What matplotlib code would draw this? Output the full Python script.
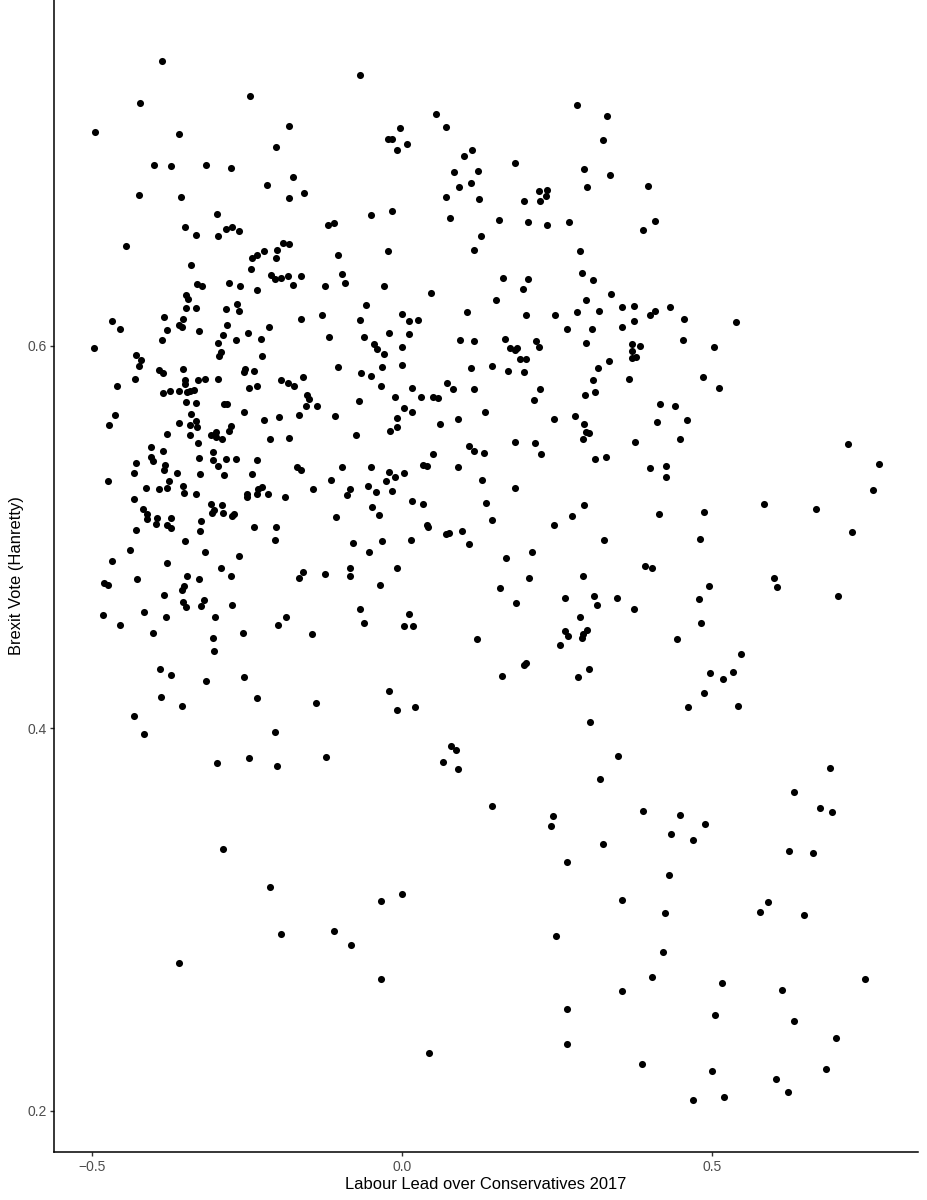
import matplotlib
matplotlib.use("Agg")
import matplotlib.pyplot as plt

# values
labour_lead = [
    -.386,-.422,-.068,-.244,-.495,-.359,-.181,-.202,-.022,-.016,
    -.003,-.008,-.399,-.372,-.316,-.276,-.175,-.217,-.424,-.356,
    -.181,-.157,-.049,-.016,-.298,
    -.349,-.332,-.296,-.283,-.274,-.262,-.119,-.110,-.445,-.022,
    -.191,-.181,-.201,-.222,-.233,-.242,-.103,-.202,-.340,-.243,
    -.211,-.205,-.194,-.183,-.163,-.097,-.175,-.124,-.091,-.029,
    -.330,-.322,-.278,-.261,-.234,-.348,-.345,-.265,-.057,-.348,
    -.331,-.283,-.262,-.383,-.352,-.467,-.163,-.128,-.068,-.454,
    -.360,-.355,-.378,-.327,-.281,-.214,-.248,-.289,-.020,-.386,
    -.268,-.227,-.118,-.061,-.297,-.045,-.497,-.040,-.292,-.294,
    -.226,-.028,-.428,-.420,-.423,-.391,-.385,-.352,-.252,-.255,
    -.239,-.102,-.031,-.065,-.049,-.430,-.350,-.349,-.329,-.317,
    -.296,-.194,-.184,-.174,-.160,-.459,-.033,-.234,-.246,-.385,
    -.373,-.360,-.347,-.341,-.335,-.152,-.149,-.011,-.069,-.348,
    -.331,-.286,-.281,-.154,-.136,-.254,-.340,-.462,-.198,-.165,
    -.108,-.007,-.222,-.332,-.359,-.472,-.342,-.330,-.276,-.008,
    -.279,-.019,-.378,-.342,-.307,-.300,-.299,-.290,-.074,-.212,
    -.181,
    -.328,-.405,-.385,-.304,-.404,-.401,-.327,-.304,-.283,-.268,
    -.233,-.428,-.382,-.297,-.169,-.163,-.096,-.049,-.384,-.432,
    -.362,-.325,-.287,-.242,-.020,-.011,-.026,-.114,-.474,-.375,
    -.413,-.391,-.378,-.352,-.351,-.332,-.225,-.231,-.233,-.216,
    -.249,-.249,-.189,-.143,-.084,-.088,-.055,-.041,-.016,-.431,
    -.308,-.290,-.418,-.303,-.306,-.289,-.271,-.273,-.048,-.036,
    -.410,-.410,-.395,-.396,-.372,-.378,-.372,-.324,-.106,-.428,
    -.325,-.239,-.202,-.205,-.349,-.079,-.031,-.052,-.438,-.317,
    -.262,-.467,-.378,-.292,-.084,-.007,-.346,-.276,-.327,-.427,
    -.159,-.165,-.123,-.083,-.480,-.474,-.351,-.354,-.035,-.383,
    -.319,-.352,-.348,-.323,-.273,-.067,-.415,-.482,-.380,-.301,
    -.187,-.061,-.454,-.200,-.401,-.256,-.144,-.304,-.303,
    -.390,-.372,-.315,-.255,-.389,-.355,-.233,-.138,-.431,-.415,
    -.021,-.007,-.204,-.298,-.246,-.201,-.122,-.288,
    -.212,-.195,-.109,-.082,-.033,.0005,-.033,-.360,
    .056,.072,.009,.113,.101,.085,.123,.112,.092,.182,
    .072,.125,.078,.157,.128,.117,.197,.221,.234,.232,
    .223,.204,.235,.270,.288,.283,.331,.325,.294,.336,
    .299,.397,.409,.389,.291,.163,.203,.309,
    .047,.195,.152,.297,.337,.355,.374,.432,.105,.201,
    .247,.283,.318,.409,.401,.375,.456,.001,.012,.026,
    .011,.266,.307,.355,.000,.094,.116,.166,.217,.222,
    .453,.298,.372,.385,.503,.174,.186,.183,.372,.371,
    .378,.190,.200,.334,.001,.111,.145,.316,.172,.197,
    .366,.486,.308,.511,.073,.016,.083,.117,.223,.312,
    .296,.031,.051,.059,.214,.004,.016,.134,.090,.061,
    .245,.280,.294,.416,.441,.411,.460,.297,.302,.292,
    .449,.377,.183,.215,.108,.117,.133,.225,.051,.312,
    .330,.034,.041,.091,.401,.427,.427,.004,.130,.182,
    .016,.034,.136,.294,.145,.274,.245,.415,.488,.041,
    .043,.072,.077,.098,.015,.109,.326,.481,.169,.210,
    .392,.403,.205,.293,.158,.496,.263,.310,.348,.480,
    .184,.315,.374,.287,.011,.003,.018,.483,.122,.444,
    .299,.263,.269,.292,.290,.255,.200,.197,.302,.162,
    .284,.497,.488,.462,.022,
    .303,.349,.080,.088,.067,.090,.320,.146,.244,.241,
    .389,.449,.489,.434,.470,.325,.266,.431,.356,.425,
    .249,.421,.403,.355,.266,.505,.266,.044,.387,.501,
    .470,
    .539,.719,.770,.760,.584,.668,.727,.600,.605,.703,
    .548,.519,.534,.542,.690,.632,.674,.694,.624,.664,
    .591,.578,.649,.748,.516,.613,.632,.700,.684,.604,
    .623,.520,
]
brexit_vote = [
    .7490,.7270,.7415,.7305,.7115,.7105,.7146,.7038,.7082,.7082,
    .7139,.7022,.6942,.6939,.6946,.6927,.6883,.6838,.6787,.6777,
    .6773,.6799,.6683,.6703,.6689,
    .6621,.6578,.6572,.6611,.6618,.6597,.6632,.6640,.6520,.6497,
    .6534,.6531,.6501,.6494,.6471,.6456,.6473,.6459,.6419,.6400,
    .6368,.6347,.6354,.6365,.6363,.6374,.6318,.6309,.6328,.6313,
    .6323,.6313,.6328,.6311,.6292,.6262,.6241,.6215,.6213,.6194,
    .6199,.6192,.6180,.6151,.6140,.6130,.6140,.6159,.6135,.6088,
    .6105,.6098,.6079,.6077,.6105,.6096,.6067,.6056,.6065,.6029,
    .6027,.6034,.6044,.6046,.6013,.6008,.5985,.5980,.5966,.5943,
    .5947,.5957,.5952,.5927,.5893,.5873,.5856,.5879,.5877,.5860,
    .5865,.5887,.5889,.5858,.5839,.5823,.5819,.5800,.5819,.5823,
    .5826,.5821,.5805,.5788,.5835,.5790,.5790,.5788,.5778,.5753,
    .5765,.5760,.5755,.5760,.5767,.5743,.5720,.5729,.5710,.5706,
    .5701,.5692,.5692,.5682,.5683,.5654,.5640,.5638,.5628,.5635,
    .5633,.5621,.5610,.5607,.5596,.5586,.5586,.5574,.5581,.5575,
    .5553,.5553,.5539,.5534,.5534,.5549,.5521,.5514,.5534,.5509,
    .5518,
    .5492,.5467,.5450,.5446,.5419,.5394,.5413,.5399,.5405,.5406,
    .5401,.5384,.5377,.5372,.5363,.5349,.5365,.5365,.5347,.5331,
    .5333,.5328,.5323,.5326,.5337,.5314,.5293,.5298,.5291,.5290,
    .5256,.5251,.5256,.5265,.5230,.5225,.5263,.5251,.5222,.5223,
    .5222,.5209,.5209,.5251,.5251,.5218,.5265,.5234,.5241,.5197,
    .5171,.5164,.5143,.5138,.5124,.5126,.5117,.5108,.5155,.5115,
    .5117,.5091,.5096,.5066,.5098,.5063,.5044,.5082,.5105,.5035,
    .5032,.5053,.5053,.4981,.4978,.4965,.4978,.4918,.4929,.4918,
    .4901,.4871,.4864,.4836,.4835,.4835,.4793,.4795,.4779,.4779,
    .4814,.4782,.4803,.4796,.4758,.4749,.4744,.4720,.4748,.4695,
    .4667,.4659,.4632,.4636,.4641,.4620,.4608,.4591,.4580,.4582,
    .4578,.4549,.4540,.4538,.4497,.4497,.4491,.4469,.4404,
    .4307,.4277,.4246,.4265,.4162,.4117,.4158,.4131,.4061,.3970,
    .4193,.4092,.3979,.3817,.3845,.3801,.3847,.3367,
    .3168,.2922,.2938,.2865,.3095,.3131,.2687,.2771,
    .7209,.7141,.7054,.7024,.6989,.6906,.6911,.6852,.6829,.6953,
    .6777,.6768,.6669,.6658,.6573,.6498,.6756,.6810,.6812,.6780,
    .6754,.6646,.6628,.6644,.6496,.7259,.7202,.7075,.6921,.6893,
    .6831,.6834,.6653,.6606,.6377,.6355,.6346,.6343,
    .6273,.6294,.6240,.6240,.6268,.6202,.6207,.6200,.6176,.6160,
    .6158,.6177,.6183,.6181,.6160,.6127,.6141,.6163,.6129,.6132,
    .6061,.6085,.6088,.6095,.5994,.6029,.6024,.6033,.6024,.5991,
    .6029,.6012,.6008,.5996,.5994,.5989,.5986,.5977,.5974,.5933,
    .5939,.5928,.5930,.5921,.5899,.5881,.5893,.5885,.5865,.5862,
    .5827,.5838,.5818,.5780,.5804,.5778,.5775,.5773,.5775,.5759,
    .5743,.5730,.5731,.5724,.5714,.5675,.5655,.5655,.5618,.5592,
    .5616,.5630,.5592,.5695,.5682,.5602,.5611,.5546,.5543,.5513,
    .5513,.5496,.5496,.5492,.5475,.5451,.5438,.5431,.5435,.5407,
    .5419,.5376,.5372,.5365,.5358,.5372,.5315,.5332,.5299,.5254,
    .5189,.5173,.5178,.5164,.5089,.5107,.5063,.5121,.5131,.5060,
    .5053,.5016,.5018,.5028,.4981,.4964,.4985,.4990,.4889,.4920,
    .4845,.4835,.4782,.4793,.4734,.4741,.4678,.4688,.4678,.4673,
    .4653,.4645,.4624,.4580,.4598,.4533,.4535,.4549,.4467,.4467,
    .4511,.4505,.4483,.4490,.4470,.4434,.4341,.4331,.4307,.4270,
    .4265,.4287,.4181,.4111,.4111,
    .4032,.3853,.3907,.3884,.3823,.3787,.3731,.3590,.3539,.3490,
    .3565,.3544,.3499,.3445,.3417,.3391,.3297,.3231,.3103,.3035,
    .2913,.2828,.2699,.2624,.2531,.2498,.2348,.2303,.2242,.2205,
    .2054,
    .6121,.5485,.5379,.5243,.5170,.5147,.5027,.4786,.4736,.4690,
    .4387,.4256,.4291,.4115,.3789,.3665,.3583,.3560,.3357,.3348,
    .3092,.3039,.3020,.2689,.2666,.2632,.2468,.2379,.2218,.2163,
    .2096,.2072,
]
x_ticks = [-0.5, 0.0, 0.5]
y_ticks = [0.2, 0.4, 0.6]

plt.rcParams["font.family"] = ["Liberation Sans", "DejaVu Sans"]

fig = plt.figure(figsize=(9.27, 12), dpi=100)
ax = fig.add_axes([54 / 927, 1 - 1152 / 1200, (918 - 54) / 927, 1152 / 1200])
ax.scatter(labour_lead, brexit_vote, s=26, c="black", linewidths=0, clip_on=False)
ax.set_xlim(-0.5608, 0.8327)
ax.set_ylim(0.1783, 0.7807)
ax.set_xticks(x_ticks)
ax.set_yticks(y_ticks)
ax.tick_params(length=3, width=1, color="#333333", labelcolor="#4d4d4d", labelsize=10, pad=2)
ax.tick_params(axis="x", pad=3)
ax.set_xlabel("Labour Lead over Conservatives 2017", fontsize=11.9, labelpad=2)
ax.set_ylabel("Brexit Vote (Hanretty)", fontsize=11.9, labelpad=3)
ax.spines["top"].set_visible(False)
ax.spines["right"].set_visible(False)
ax.spines["left"].set_linewidth(1.1)
ax.spines["bottom"].set_linewidth(1.1)

fig.savefig("out.png", dpi=100)
plt.close(fig)
